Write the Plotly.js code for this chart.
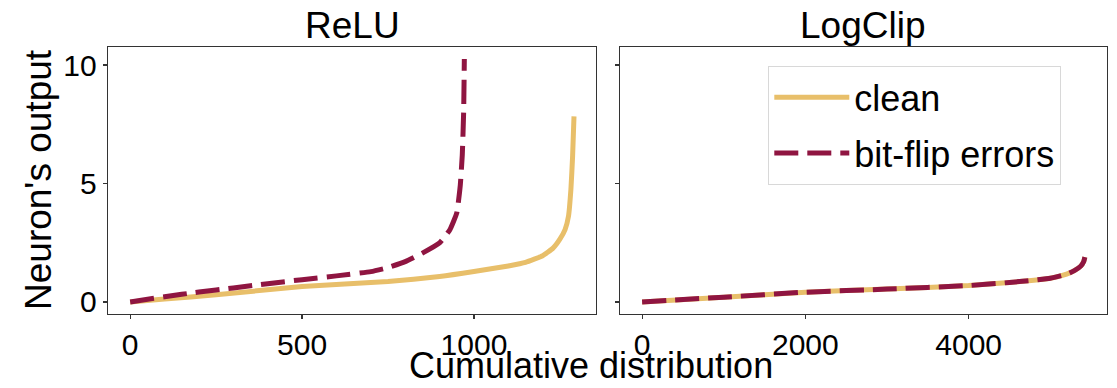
<!DOCTYPE html>
<html>
<head>
<meta charset="utf-8">
<script src="https://cdn.plot.ly/plotly-3.0.1.min.js"></script>
<style>html,body{margin:0;padding:0;background:#fff;}#chart{width:1117px;height:388px;}</style>
</head>
<body>
<div id="chart"></div>
<script>
// ReLU panel
const reluCleanX = [0, 100, 250, 500, 750, 900, 1000, 1100, 1150, 1200, 1230, 1250, 1265, 1275, 1282, 1287, 1291];
const reluCleanY = [0, 0.12, 0.30, 0.65, 0.86, 1.07, 1.28, 1.52, 1.67, 1.95, 2.27, 2.65, 3.05, 3.62, 4.75, 6.16, 7.83];
const reluFlipX = [0, 100, 200, 300, 400, 500, 600, 700, 750, 800, 850, 900, 930, 950, 960, 966, 970, 972];
const reluFlipY = [0, 0.22, 0.42, 0.59, 0.77, 0.94, 1.10, 1.28, 1.45, 1.70, 2.06, 2.49, 3.05, 3.76, 4.89, 6.2, 8.0, 10.25];
// LogClip panel
const logCleanX = [0, 1000, 2000, 3000, 4000, 4500, 5000, 5200, 5300, 5370, 5410, 5424];
const logCleanY = [0, 0.20, 0.41, 0.54, 0.69, 0.82, 1.00, 1.17, 1.33, 1.50, 1.71, 1.89];
const logFlipX = [0, 1000, 2000, 3000, 4000, 4500, 5000, 5200, 5300, 5370, 5410, 5424];
const logFlipY = [0, 0.20, 0.41, 0.54, 0.69, 0.82, 1.00, 1.17, 1.33, 1.50, 1.71, 1.89];

const panelTitles = ["ReLU", "LogClip"];
const seriesNames = ["clean", "bit-flip errors"];
const xTickVals1 = [0, 500, 1000];
const xTickVals2 = [0, 2000, 4000];
const yTickVals = [0, 5, 10];

const cClean = "#E8BF6A";
const cFlip = "#8F1541";
const W = 1117, H = 388;
const FONT = "Liberation Sans, Arial, Helvetica, sans-serif";
const TICK = 30, TITLE = 37, XTITLE = 36, LEG = 36;

const cleanLine = {color: cClean, width: 5, shape: "spline", smoothing: 0.4};
const flipLine = {color: cFlip, width: 5, dash: "24px,9px", shape: "spline", smoothing: 0.4};

const traces = [
  {x: reluCleanX, y: reluCleanY, xaxis: "x", yaxis: "y", mode: "lines", line: cleanLine, name: seriesNames[0], showlegend: false},
  {x: reluFlipX, y: reluFlipY, xaxis: "x", yaxis: "y", mode: "lines", line: flipLine, name: seriesNames[1], showlegend: false},
  {x: logCleanX, y: logCleanY, xaxis: "x2", yaxis: "y2", mode: "lines", line: cleanLine, name: seriesNames[0], legendgroup: "a"},
  {x: logFlipX, y: logFlipY, xaxis: "x2", yaxis: "y2", mode: "lines", line: flipLine, name: seriesNames[1], legendgroup: "b"}
];

const px = v => v / W;
const py = v => 1 - v / H;

const axisCommon = {
  showline: true, mirror: true, linecolor: "#333", linewidth: 1.3,
  ticks: "outside", ticklen: 4, tickwidth: 1.2, tickcolor: "#333",
  showgrid: false, zeroline: false,
  tickfont: {family: FONT, size: TICK, color: "#000"}
};

const layout = {
  width: W, height: H,
  margin: {l: 0, r: 0, t: 0, b: 0},
  paper_bgcolor: "#fff", plot_bgcolor: "#fff",
  font: {family: FONT, color: "#000"},
  xaxis: Object.assign({}, axisCommon, {domain: [px(108), px(596)], range: [-64.5, 1355], tickvals: xTickVals1, anchor: "y"}),
  yaxis: Object.assign({}, axisCommon, {domain: [py(314), py(47)], range: [-0.51, 10.76], tickvals: yTickVals, anchor: "x"}),
  xaxis2: Object.assign({}, axisCommon, {domain: [px(620), px(1107)], range: [-271, 5695], tickvals: xTickVals2, anchor: "y2"}),
  yaxis2: Object.assign({}, axisCommon, {domain: [py(314), py(47)], range: [-0.51, 10.76], tickvals: yTickVals, showticklabels: false, anchor: "x2"}),
  showlegend: true,
  legend: {
    x: px(768), y: py(66), xanchor: "left", yanchor: "top",
    bgcolor: "rgba(255,255,255,0.8)", bordercolor: "#d8d8d8", borderwidth: 1.3,
    font: {family: FONT, size: LEG, color: "#000"},
    traceorder: "grouped", tracegroupgap: 6, itemwidth: 75
  },
  annotations: [
    {text: panelTitles[0], xref: "paper", yref: "paper", x: px(352), y: py(26), xanchor: "center", yanchor: "middle", showarrow: false, font: {family: FONT, size: TITLE, color: "#000"}},
    {text: panelTitles[1], xref: "paper", yref: "paper", x: px(863), y: py(26), xanchor: "center", yanchor: "middle", showarrow: false, font: {family: FONT, size: TITLE, color: "#000"}},
    {text: "Cumulative distribution", xref: "paper", yref: "paper", x: px(591), y: 0, xanchor: "center", yanchor: "bottom", showarrow: false, font: {family: FONT, size: XTITLE, color: "#000"}},
    {text: "Neuron's output", xref: "paper", yref: "paper", x: px(38), y: py(180), xanchor: "center", yanchor: "middle", textangle: -90, showarrow: false, font: {family: FONT, size: TITLE, color: "#000"}}
  ]
};

Plotly.newPlot("chart", traces, layout, {displayModeBar: false, staticPlot: true});
</script>
</body>
</html>
